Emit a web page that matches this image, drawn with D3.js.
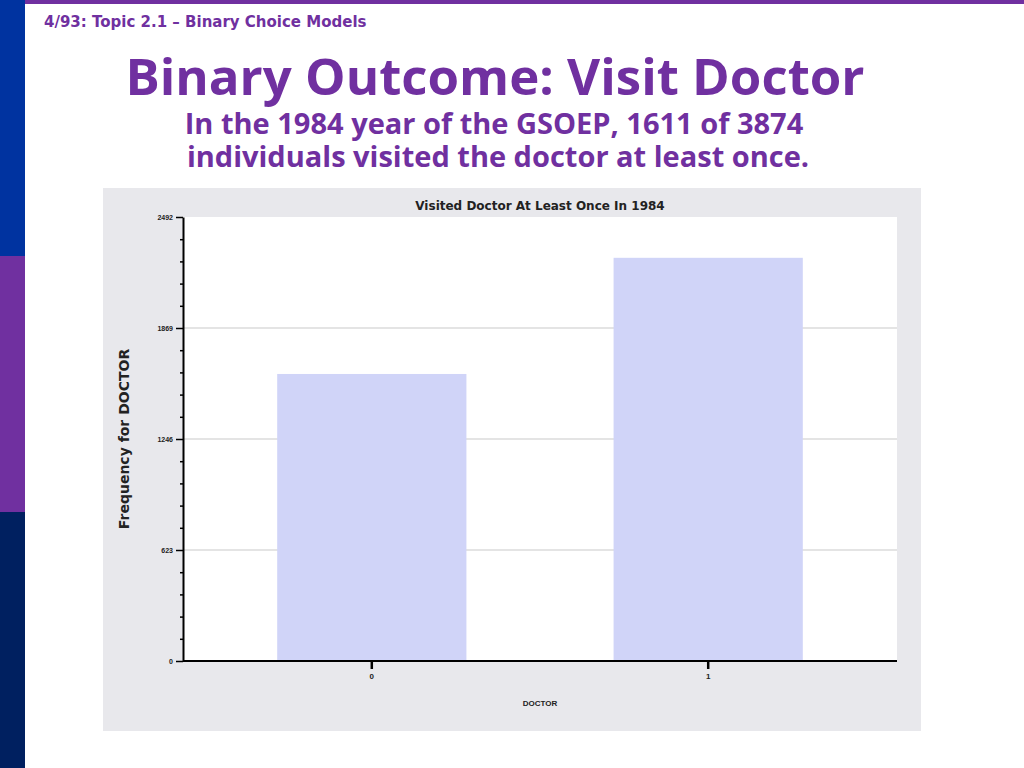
<!DOCTYPE html>
<html><head><meta charset="utf-8">
<script src="https://cdn.jsdelivr.net/npm/d3@7"></script>
<style>body{margin:0;background:#fff}</style>
</head><body><div id="chart"></div>
<script>
const categories = ["0", "1"];
const counts = [1611, 2263];
const tickValues = [0, 623, 1246, 1869, 2492];

const width = 1024, height = 768;
const svg = d3.select("#chart").append("svg").attr("width", width).attr("height", height);

// slide chrome
svg.append("rect").attr("x", 0).attr("y", 0).attr("width", 25).attr("height", 256).attr("fill", "#0033a0");
svg.append("rect").attr("x", 0).attr("y", 256).attr("width", 25).attr("height", 256).attr("fill", "#7030a0");
svg.append("rect").attr("x", 0).attr("y", 512).attr("width", 25).attr("height", 256).attr("fill", "#002060");
svg.append("rect").attr("x", 25).attr("y", 0).attr("width", 999).attr("height", 4).attr("fill", "#7030a0");

svg.append("text").attr("x", 44).attr("y", 27).attr("fill", "#7030a0")
  .style("font", "bold 15px 'DejaVu Sans', Verdana").text("4/93: Topic 2.1 \u2013 Binary Choice Models");
svg.append("text").attr("x", 495).attr("y", 95).attr("text-anchor", "middle").attr("fill", "#7030a0")
  .style("font", "bold 51px 'Open Sans', sans-serif").text("Binary Outcome: Visit Doctor");
svg.append("text").attr("x", 494).attr("y", 134).attr("text-anchor", "middle").attr("fill", "#7030a0")
  .style("font", "bold 29px 'Open Sans', sans-serif").text("In the 1984 year of the GSOEP, 1611 of 3874");
svg.append("text").attr("x", 498).attr("y", 167).attr("text-anchor", "middle").attr("fill", "#7030a0")
  .style("font", "bold 29px 'Open Sans', sans-serif").text("individuals visited the doctor at least once.");

// chart panel
svg.append("rect").attr("x", 103).attr("y", 188).attr("width", 818).attr("height", 543).attr("fill", "#e8e8ec");
const plot = { left: 183, right: 897, top: 217, bottom: 661 };
svg.append("rect").attr("x", plot.left).attr("y", plot.top)
  .attr("width", plot.right - plot.left).attr("height", plot.bottom - plot.top).attr("fill", "#fff");

const x = d3.scaleBand().domain(categories).range([plot.left, plot.right]).paddingInner(0.4375).paddingOuter(0.28);
const y = d3.scaleLinear().domain([0, 2492]).range([plot.bottom, plot.top]);

// gridlines
svg.append("g").selectAll("line").data(tickValues.slice(1, 4)).join("line")
  .attr("x1", plot.left).attr("x2", plot.right).attr("y1", d => y(d)).attr("y2", d => y(d))
  .attr("stroke", "#e4e4e4").attr("stroke-width", 2);

svg.append("g").selectAll("rect").data(counts).join("rect")
  .attr("x", (d, i) => x(categories[i])).attr("width", x.bandwidth())
  .attr("y", d => y(d)).attr("height", d => plot.bottom - y(d)).attr("fill", "#d0d4f8");

// minor ticks
const minor = d3.range(0, 2492, 623 / 5).filter((d, i) => i % 5 !== 0);
svg.append("g").attr("transform", `translate(${plot.left},0)`)
  .call(d3.axisLeft(y).tickValues(minor).tickSize(3).tickFormat(""))
  .call(g => g.select(".domain").remove())
  .selectAll("line").attr("stroke", "#000").attr("stroke-width", 1.5);

svg.append("g").attr("transform", `translate(${plot.left},0)`)
  .call(d3.axisLeft(y).tickValues(tickValues).tickFormat(d3.format("d")).tickSize(7).tickSizeOuter(0).tickPadding(3))
  .call(g => g.select(".domain").attr("stroke-width", 2))
  .call(g => g.selectAll("line").attr("stroke-width", 1.5))
  .selectAll("text").style("font", "bold 7px 'Liberation Sans', Arial").attr("fill", "#222");

svg.append("g").attr("transform", `translate(0,${plot.bottom})`)
  .call(d3.axisBottom(x).tickSize(8).tickSizeOuter(0).tickPadding(4))
  .call(g => g.select(".domain").attr("stroke-width", 2).attr("d", `M${plot.left},0H${plot.right}`))
  .call(g => g.selectAll("line").attr("stroke-width", 2.5))
  .selectAll("text").style("font", "bold 8px 'Liberation Sans', Arial").attr("fill", "#222");

svg.append("text").attr("x", 540).attr("y", 210).attr("text-anchor", "middle")
  .style("font", "bold 12px 'DejaVu Sans', Verdana").attr("fill", "#222").text("Visited Doctor At Least Once In 1984");
svg.append("text").attr("x", 540).attr("y", 706).attr("text-anchor", "middle")
  .style("font", "bold 8px 'Liberation Sans', Arial").attr("fill", "#222").text("DOCTOR");
svg.append("text").attr("transform", "translate(129,439) rotate(-90)").attr("text-anchor", "middle")
  .style("font", "bold 14px 'DejaVu Sans', Verdana").attr("fill", "#222").text("Frequency for DOCTOR");
</script></body></html>
